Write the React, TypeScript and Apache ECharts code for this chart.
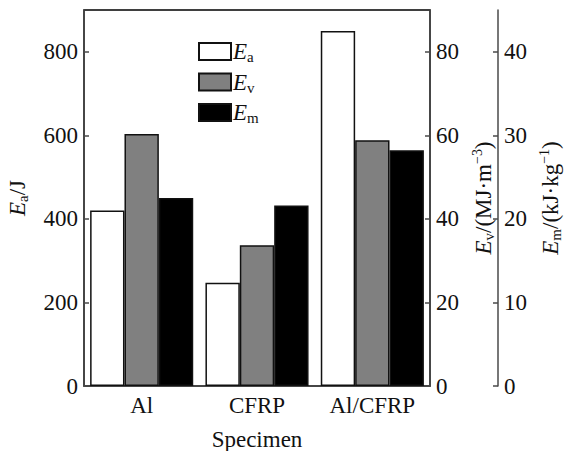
import React, { useEffect, useRef } from "react";
import * as echarts from "echarts";

const categories = ["Al", "CFRP", "Al/CFRP"];
const seriesNames = ["Ea", "Ev", "Em"];
const eaValues = [420, 247, 850];
const evValues = [60.3, 33.7, 58.8];
const emValues = [22.5, 21.6, 28.2];
const xAxisTitle = "Specimen";

const FONT = "'Liberation Serif', 'DejaVu Serif', serif";
const AXIS_GRAY = "#4a4a4a";
const FS = 23;

const richStyles = {
  i: { fontFamily: FONT, fontSize: FS, fontStyle: "italic", color: "#111", lineHeight: 26 },
  n: { fontFamily: FONT, fontSize: FS, color: "#111", lineHeight: 26 },
  sub: { fontFamily: FONT, fontSize: 15, color: "#111", verticalAlign: "bottom", lineHeight: 12 },
  sup: { fontFamily: FONT, fontSize: 14, color: "#111", verticalAlign: "top", lineHeight: 12 },
};

export default function App() {
  const ref = useRef<HTMLDivElement>(null);
  useEffect(() => {
    if (!ref.current) return;
    const chart = echarts.init(ref.current, null, { renderer: "svg" });
    const yBase = {
      type: "value",
      axisLine: { show: true, lineStyle: { color: AXIS_GRAY, width: 1.5 } },
      axisTick: { show: true, inside: true, length: 5, lineStyle: { color: AXIS_GRAY, width: 1.5 } },
      splitLine: { show: false },
      axisLabel: { fontFamily: FONT, fontSize: FS, color: "#111", showMaxLabel: false, margin: 6 },
      nameLocation: "middle",
      nameRotate: 90,
      nameTextStyle: { fontFamily: FONT, fontSize: FS, color: "#111", rich: richStyles },
    };
    chart.setOption({
      animation: false,
      backgroundColor: "#ffffff",
      grid: {
        left: 84,
        right: 134,
        top: 10,
        bottom: 65,
        outerBoundsMode: "none",
        containLabel: false,
        show: true,
        borderColor: "#000",
        borderWidth: 1.5,
        backgroundColor: "transparent",
      },
      legend: {
        orient: "vertical",
        left: 198,
        top: 40,
        padding: 0,
        itemWidth: 32,
        itemHeight: 17,
        itemGap: 6,
        icon: "rect",
        data: seriesNames,
        formatter: (name: string) => `{i|E}{sub|${name.slice(1)}}`,
        textStyle: { fontFamily: FONT, fontSize: FS, color: "#111", rich: richStyles, padding: [0, 0, 0, -3] },
      },
      xAxis: {
        type: "category",
        data: categories,
        name: xAxisTitle,
        nameLocation: "middle",
        nameGap: 42,
        nameTextStyle: { fontFamily: FONT, fontSize: FS, color: "#111" },
        axisLine: { show: true, lineStyle: { color: AXIS_GRAY, width: 1.5 } },
        axisTick: { show: false },
        axisLabel: { fontFamily: FONT, fontSize: FS, color: "#111", margin: 8, interval: 0 },
      },
      yAxis: [
        {
          ...yBase,
          position: "left",
          min: 0,
          max: 900,
          interval: 200,
          name: "{i|E}{sub|a}{n|/J}",
          nameGap: 54,
        },
        {
          ...yBase,
          position: "right",
          min: 0,
          max: 90,
          interval: 20,
          name: "{i|E}{sub|v}{n|/(MJ·m}{sup|−3}{n|)}",
          nameGap: 40,
        },
        {
          ...yBase,
          position: "right",
          offset: 68,
          min: 0,
          max: 45,
          interval: 10,
          name: "{i|E}{sub|m}{n|/(kJ·kg}{sup|−1}{n|)}",
          nameGap: 39,
        },
      ],
      series: [
        {
          name: seriesNames[0],
          type: "bar",
          yAxisIndex: 0,
          data: eaValues,
          barGap: "0%",
          barCategoryGap: "10.6%",
          itemStyle: { color: "#ffffff", borderColor: "#111", borderWidth: 1.5 },
        },
        {
          name: seriesNames[1],
          type: "bar",
          yAxisIndex: 1,
          data: evValues,
          barGap: "0%",
          barCategoryGap: "10.6%",
          itemStyle: { color: "#808080", borderColor: "#111", borderWidth: 1.5 },
        },
        {
          name: seriesNames[2],
          type: "bar",
          yAxisIndex: 2,
          data: emValues,
          barGap: "0%",
          barCategoryGap: "10.6%",
          itemStyle: { color: "#000000", borderColor: "#111", borderWidth: 1.5 },
        },
      ],
    });
    return () => chart.dispose();
  }, []);
  return (
    <div
      ref={ref}
      style={{ position: "absolute", left: 0, top: 0, width: 564, height: 451 }}
    />
  );
}
